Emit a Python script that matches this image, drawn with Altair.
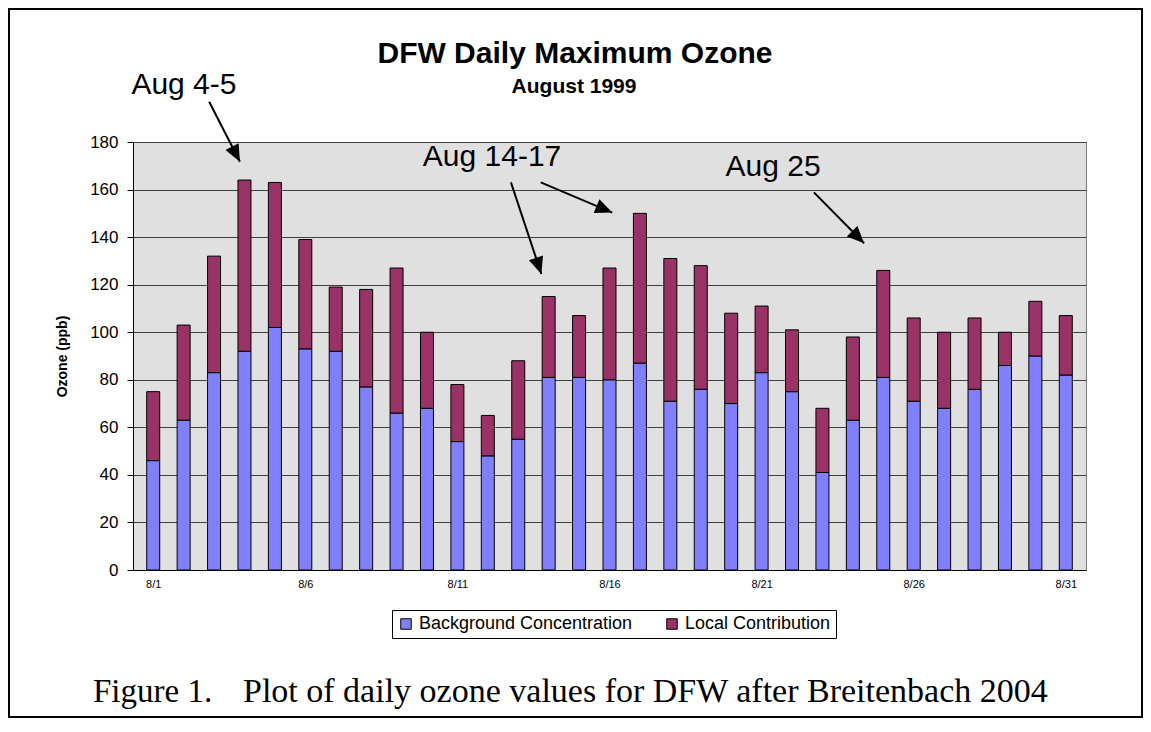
import math
import altair as alt
import pandas as pd

# ---------------- data ----------------
days = list(range(1, 32))
background = [46, 63, 83, 92, 102, 93, 92, 77, 66, 68, 54, 48, 55, 81, 81, 80,
              87, 71, 76, 70, 83, 75, 41, 63, 81, 71, 68, 76, 86, 90, 82]
total = [75, 103, 132, 164, 163, 139, 119, 118, 127, 100, 78, 65, 88, 115, 107, 127,
         150, 131, 128, 108, 111, 101, 68, 98, 126, 106, 100, 106, 100, 113, 107]
local = [t - b for t, b in zip(total, background)]

series_names = ["Background Concentration", "Local Contribution"]
series_colors = ["#8080FF", "#993366"]

x_tick_days = [1, 6, 11, 16, 21, 26, 31]
y_ticks = [0, 20, 40, 60, 80, 100, 120, 140, 160, 180]

chart_title = "DFW Daily Maximum Ozone"
chart_subtitle = "August 1999"
y_title = "Ozone (ppb)"
caption_fig = "Figure 1."
caption_text = "Plot of daily ozone values for DFW after Breitenbach 2004"

# annotations (in data units: day, ppb)
note_labels = ["Aug 4-5", "Aug 14-17", "Aug 25"]
note_day = [2.01, 12.14, 21.38]
note_ppb = [200.2, 169.9, 165.8]

arrow_day_start = [2.84, 12.76, 13.74, 22.72]
arrow_ppb_start = [196.9, 163.0, 163.0, 158.8]
arrow_day_end = [3.85, 13.76, 16.09, 24.37]
arrow_ppb_end = [171.7, 124.5, 150.3, 137.4]

# ---------------- layout ----------------
W, H = 953, 428
PAD_L, PAD_T, PAD_R, PAD_B = 125, 134, 57, 148
X_DOMAIN = [0.5, 31.5]
Y_DOMAIN = [0, 180]
px_day = W / (X_DOMAIN[1] - X_DOMAIN[0])
px_ppb = H / (Y_DOMAIN[1] - Y_DOMAIN[0])

FONT = "Liberation Sans"
SERIF = "Liberation Serif"

# ---------------- tables ----------------
bar_rows = []
for d, b, l in zip(days, background, local):
    bar_rows.append({"day": d, "series": series_names[0], "ppb0": 0, "ppb": b})
    bar_rows.append({"day": d, "series": series_names[1], "ppb0": b, "ppb": b + l})
bar_df = pd.DataFrame(bar_rows)

note_df = pd.DataFrame({"day": note_day, "ppb": note_ppb, "label": note_labels})

angles = []
for d1, p1, d2, p2 in zip(arrow_day_start, arrow_ppb_start, arrow_day_end, arrow_ppb_end):
    dx = (d2 - d1) * px_day
    dy = -(p2 - p1) * px_ppb
    angles.append(math.degrees(math.atan2(dx, -dy)) % 360)
arrow_df = pd.DataFrame({"day": arrow_day_start, "ppb": arrow_ppb_start,
                         "day2": arrow_day_end, "ppb2": arrow_ppb_end})
head_df = pd.DataFrame({"day": arrow_day_end, "ppb": arrow_ppb_end, "angle": angles})

one = pd.DataFrame({"k": [0]})

# ---------------- scales / axes ----------------
xs = alt.Scale(domain=X_DOMAIN, nice=False, zero=False)
ys = alt.Scale(domain=Y_DOMAIN, nice=False, zero=True)

x_axis = alt.Axis(values=x_tick_days, labelExpr="'8/' + datum.value", ticks=False,
                  grid=False, domainColor="black", domainWidth=1, labelFontSize=11,
                  labelPadding=8, labelColor="black", labelFont=FONT, title=None)
y_axis = alt.Axis(values=y_ticks, grid=True, gridColor="#404040", gridWidth=1,
                  tickSize=6, tickColor="black", domainColor="black", labelFontSize=17,
                  labelPadding=9, labelColor="black", labelFont=FONT,
                  title=y_title, titleFontSize=14, titleFontWeight="bold", titleFont=FONT,
                  titleColor="black", titleX=-71, titleY=214, titleAngle=270,
                  titleAlign="center", titleBaseline="middle")


def X(field):
    return alt.X(field, type="quantitative", scale=xs, axis=x_axis)


def Y(field):
    return alt.Y(field, type="quantitative", scale=ys, axis=y_axis)


bars = alt.Chart(bar_df).mark_bar(size=13, stroke="black", strokeWidth=1).encode(
    x=X("day"),
    y=Y("ppb"),
    y2=alt.Y2("ppb0:Q"),
    color=alt.Color("series:N",
                    scale=alt.Scale(domain=series_names, range=series_colors),
                    legend=alt.Legend(title=None, orient="none", legendX=259, legendY=468,
                                      direction="horizontal", strokeColor="black",
                                      fillColor="white", padding=5, symbolType="square",
                                      symbolSize=110, symbolStrokeColor="black",
                                      symbolStrokeWidth=1, labelFontSize=18,
                                      labelFont=FONT, labelColor="black",
                                      columnPadding=30, labelLimit=400)),
)

arrows = alt.Chart(arrow_df).mark_rule(color="black", strokeWidth=2).encode(
    x=X("day"), y=Y("ppb"), x2=alt.X2("day2:Q"), y2=alt.Y2("ppb2:Q"))

heads = alt.Chart(head_df).mark_point(
    shape="M0,0L-0.44,1L0.44,1Z", filled=True, size=1156, color="black", opacity=1
).encode(x=X("day"), y=Y("ppb"), angle=alt.Angle("angle:Q", scale=None))

notes = alt.Chart(note_df).mark_text(font=FONT, fontSize=30, align="center",
                                     baseline="alphabetic", color="black").encode(
    x=X("day"), y=Y("ppb"), text="label:N")

title_t = alt.Chart(one).mark_text(text=chart_title, font=FONT, fontSize=30,
                                   fontWeight="bold", align="center",
                                   baseline="alphabetic", color="black").encode(
    x=alt.value(442), y=alt.value(-79))
subtitle_t = alt.Chart(one).mark_text(text=chart_subtitle, font=FONT, fontSize=21,
                                      fontWeight="bold", align="center",
                                      baseline="alphabetic", color="black").encode(
    x=alt.value(441), y=alt.value(-49))
cap1 = alt.Chart(one).mark_text(text=caption_fig, font=SERIF, fontSize=33, align="left",
                                baseline="alphabetic", color="black").encode(
    x=alt.value(-40), y=alt.value(560))
cap2 = alt.Chart(one).mark_text(text=caption_text, font=SERIF, fontSize=34, align="left",
                                baseline="alphabetic", color="black").encode(
    x=alt.value(110), y=alt.value(560))

frame = alt.Chart(one).mark_rect(fillOpacity=0, stroke="black", strokeWidth=2).encode(
    x=alt.value(-PAD_L + 1), x2=alt.value(W + PAD_R - 1),
    y=alt.value(-PAD_T + 1), y2=alt.value(H + PAD_B - 1))

chart = alt.layer(bars, arrows, heads, notes, title_t, subtitle_t, cap1, cap2, frame).properties(
    width=W, height=H,
    autosize=alt.AutoSizeParams(type="none"),
    padding={"left": PAD_L, "top": PAD_T, "right": PAD_R, "bottom": PAD_B},
    background="white",
).configure_view(fill="#E0E0E0", stroke="#808080", strokeWidth=1)

chart.save("out.html", embed_options={"renderer": "svg", "actions": False})
